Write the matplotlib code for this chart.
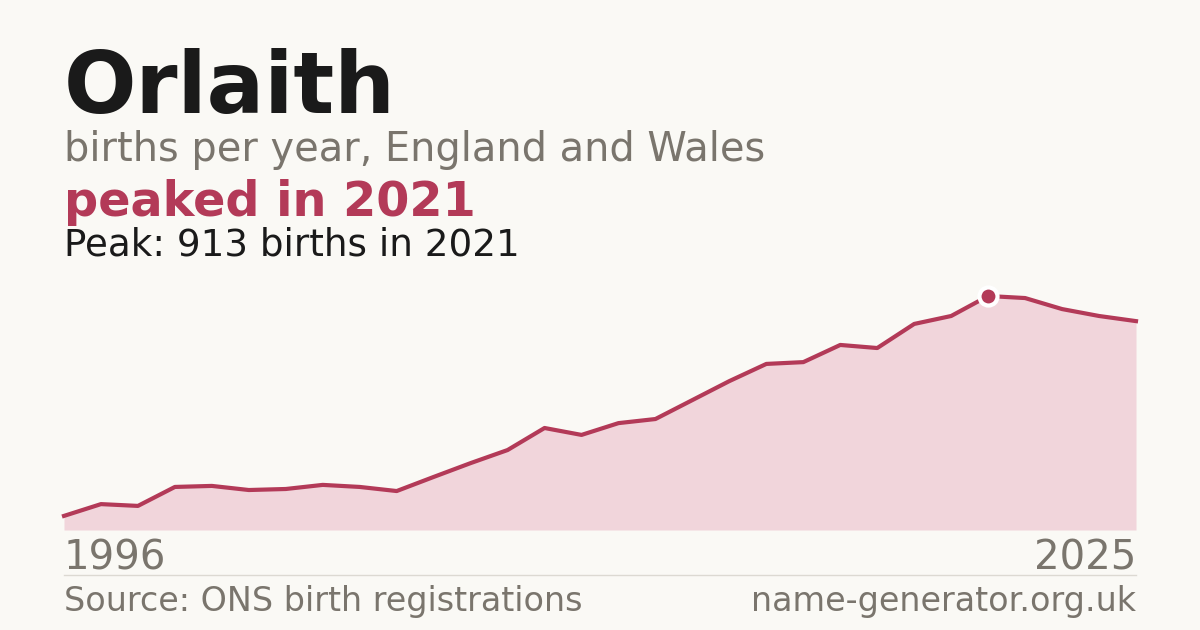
import matplotlib
matplotlib.use("Agg")
import matplotlib.pyplot as plt
from matplotlib.lines import Line2D

# births per year
years = list(range(1996, 2026))
births = [55, 101, 94, 168, 172, 156, 160, 176, 168, 152,
          207, 261, 312, 398, 371, 417, 433, 507, 581, 648,
          655, 722, 710, 804, 835, 913, 905, 862, 835, 815]

name = "Orlaith"
subtitle = "births per year, England and Wales"
headline = "peaked in 2021"
peak_note = "Peak: 913 births in 2021"
source = "Source: ONS birth registrations"
site = "name-generator.org.uk"

BG = "#faf9f5"
INK = "#1a1a1a"
GREY = "#7a756d"
ACCENT = "#b33a58"
FILL = "#f1d5db"

plt.rcParams["font.family"] = ["DejaVu Sans"]

W, H = 1200, 630
fig = plt.figure(figsize=(W / 100, H / 100), dpi=100, facecolor=BG)

# plot area: x 64..1136 px, baseline at y=530 px, top at 270 px
ax = fig.add_axes([64 / W, (H - 530) / H, (1136 - 64) / W, (530 - 270) / H])
ax.set_facecolor(BG)
peak_val = max(births)
peak_year = years[births.index(peak_val)]
ax.set_xlim(years[0], years[-1])
ax.set_ylim(0, peak_val * 260 / 234)
ax.fill_between(years, births, 0, color=FILL, linewidth=0)
ax.plot(years, births, color=ACCENT, linewidth=3.0, solid_joinstyle="round",
        clip_on=False)
ax.plot([peak_year], [peak_val], "o", color=ACCENT, markersize=13,
        markeredgecolor="white", markeredgewidth=3, clip_on=False, zorder=5)
ax.axis("off")

# header text
fig.text(64 / W, 1 - 113 / H, name, fontsize=61.5, fontweight="bold",
         color=INK, va="baseline")
fig.text(64 / W, 1 - 161 / H, subtitle, fontsize=28.75, color=GREY,
         va="baseline")
fig.text(64 / W, 1 - 216 / H, headline, fontsize=34.4, fontweight="bold",
         color=ACCENT, va="baseline")
fig.text(64 / W, 1 - 255 / H, peak_note, fontsize=26.8, color=INK,
         va="baseline")

# year labels
fig.text(64 / W, 1 - 570 / H, str(years[0]), fontsize=29, color=GREY,
         va="baseline")
fig.text(1136 / W, 1 - 570 / H, str(years[-1]), fontsize=29, color=GREY,
         va="baseline", ha="right")

# separator + footer
fig.add_artist(Line2D([64 / W, 1136 / W], [1 - 574.5 / H, 1 - 574.5 / H],
                      color="#dcd9d2", linewidth=1))
fig.text(64 / W, 1 - 611 / H, source, fontsize=24, color=GREY,
         va="baseline")
fig.text(1136 / W, 1 - 611 / H, site, fontsize=24, color=GREY,
         va="baseline", ha="right")

fig.savefig("out.png", dpi=100, facecolor=BG)
